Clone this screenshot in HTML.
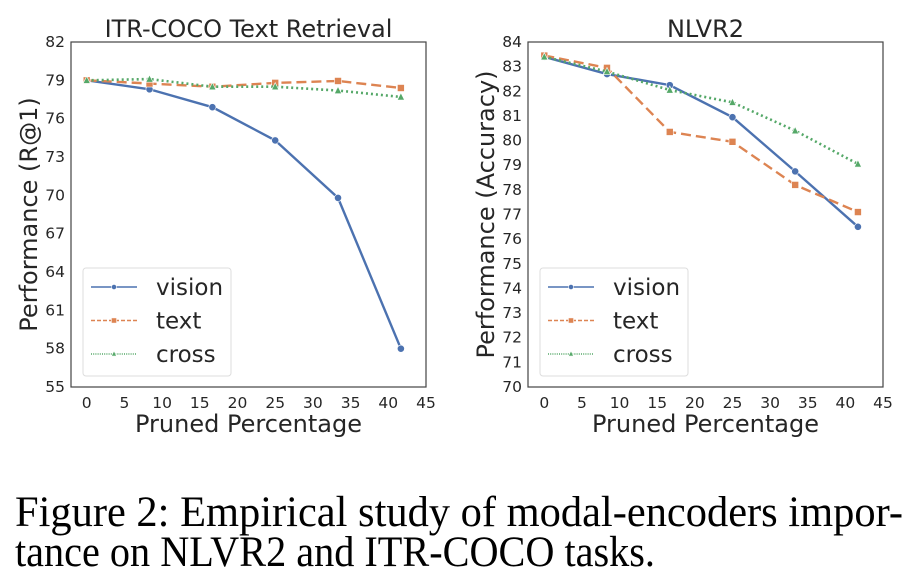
<!DOCTYPE html>
<html><head><meta charset="utf-8"><style>
html,body{margin:0;padding:0;background:#fff;width:918px;height:585px;overflow:hidden}
svg text{font-family:"DejaVu Sans","Liberation Sans",sans-serif;fill:#262626}
</style></head><body>
<svg id="fig" width="918" height="585" viewBox="0 0 918 585" xmlns="http://www.w3.org/2000/svg">
<g id="left"></g>
<g id="right"></g>
<text x="15" y="526" textLength="888" lengthAdjust="spacingAndGlyphs" style="font-family:'Liberation Serif',serif;font-size:43px;fill:#000">Figure 2:  Empirical study of modal-encoders impor-</text>
<text x="15" y="566" textLength="640" lengthAdjust="spacingAndGlyphs" style="font-family:'Liberation Serif',serif;font-size:43px;fill:#000">tance on NLVR2 and ITR-COCO tasks.</text>
</svg>
<script>
const xs = [0, 8.33, 16.67, 25, 33.33, 41.67];
const xTicks = [0,5,10,15,20,25,30,35,40,45];
const leftVision = [79.0, 78.3, 76.9, 74.3, 69.8, 58.0];
const leftText = [79.0, 78.75, 78.5, 78.8, 78.95, 78.4];
const leftCross = [79.0, 79.1, 78.5, 78.5, 78.2, 77.7];
const leftYTicks = [55,58,61,64,67,70,73,76,79,82];
const rightVision = [83.4, 82.7, 82.25, 80.95, 78.75, 76.5];
const rightText = [83.45, 82.95, 80.35, 79.95, 78.2, 77.1];
const rightCross = [83.4, 82.8, 82.05, 81.55, 80.4, 79.05];
const rightYTicks = [70,71,72,73,74,75,76,77,78,79,80,81,82,83,84];
const seriesNames = ['vision','text','cross'];
const colors = ['#4c72b0','#dd8452','#55a868'];
const NS='http://www.w3.org/2000/svg';
function mk(parent, tag, attrs){const e=document.createElementNS(NS,tag);for(const k in attrs)e.setAttribute(k,attrs[k]);parent.appendChild(e);return e;}
function marker(g,type,x,y,c,s){
  if(type===0) return mk(g,'circle',{cx:x,cy:y,r:s,fill:c,stroke:'#fff','stroke-width':0.6});
  if(type===1) return mk(g,'rect',{x:x-s,y:y-s,width:2*s,height:2*s,fill:c,stroke:'#fff','stroke-width':0.6});
  return mk(g,'polygon',{points:`${x},${y-s-0.5} ${x-s},${y+s-0.5} ${x+s},${y+s-0.5}`,fill:c,stroke:'#fff','stroke-width':0.6});
}
const dashes=['none','10,5','2,3'];
function chart(g, o){
  const {L,R,T,B,x0,ymin,ymax,yTicks,series,title,ylabel} = o;
  const xsc=v=>x0+(v)*(R-x0)/45;
  const ysc=v=>B-(v-ymin)*(B-T)/(ymax-ymin);
  let e;
  e=mk(g,'rect',{x:L,y:T,width:R-L,height:B-T,fill:'#fff',stroke:'#444','stroke-width':1.2});
   
  yTicks.forEach(t=>{e=mk(g,'text',{x:L-6,y:ysc(t)+5,'text-anchor':'end','font-size':15.5});e.textContent=t;
     });
  xTicks.forEach(t=>{e=mk(g,'text',{x:xsc(t),y:B+21,'text-anchor':'middle','font-size':15.5});e.textContent=t;
     });
  e=mk(g,'text',{x:(L+R)/2,y:B+45,'text-anchor':'middle','font-size':24});e.textContent='Pruned Percentage';
   
  e=mk(g,'text',{x:(L+R)/2,y:T-5,'text-anchor':'middle','font-size':24});e.textContent=title;
   
  e=mk(g,'text',{x:0,y:0,'text-anchor':'middle','font-size':24,transform:`translate(${L-34},${(T+B)/2}) rotate(-90)`});e.textContent=ylabel;
   
  series.forEach((vals,i)=>{
    const sg=mk(g,'g',{});
     
    const pts=vals.map((v,j)=>xsc(xs[j])+','+ysc(v)).join(' ');
    const w=i===2?2.6:2.4;
    const p=mk(sg,'polyline',{points:pts,fill:'none',stroke:colors[i],'stroke-width':w,'stroke-dasharray':dashes[i]});
     
    vals.forEach((v,j)=>{const m=marker(sg,i,xsc(xs[j]),ysc(v),colors[i],i===1?3.5:3.6);
       });
  });
  const lg=mk(g,'g',{});
   
  e=mk(lg,'rect',{x:L+12,y:268,width:148,height:108,rx:3,fill:'#fff',stroke:'#ddd','stroke-width':1});
  seriesNames.forEach((n,i)=>{
    const y=287+i*33.5;
    const eg=mk(lg,'g',{});
     
    mk(eg,'line',{x1:L+20,y1:y,x2:L+66,y2:y,stroke:colors[i],'stroke-width':1.4,'stroke-dasharray':i===0?'none':(i===1?'4,2':'1,1.2')});
    marker(eg,i,L+43,y,colors[i],2.6);
    const t=mk(eg,'text',{x:L+85,y:y+8,'font-size':23});t.textContent=n;
  });
}
chart(document.getElementById('left'),{L:71,R:426,T:42,B:387,x0:86.7,ymin:55,ymax:82,yTicks:leftYTicks,
  series:[leftVision,leftText,leftCross],title:'ITR-COCO Text Retrieval',ylabel:'Performance (R@1)'});
chart(document.getElementById('right'),{L:528,R:883,T:42,B:387,x0:544.3,ymin:70,ymax:84,yTicks:rightYTicks,
  series:[rightVision,rightText,rightCross],title:'NLVR2',ylabel:'Performance (Accuracy)'});
</script>
</body></html>
